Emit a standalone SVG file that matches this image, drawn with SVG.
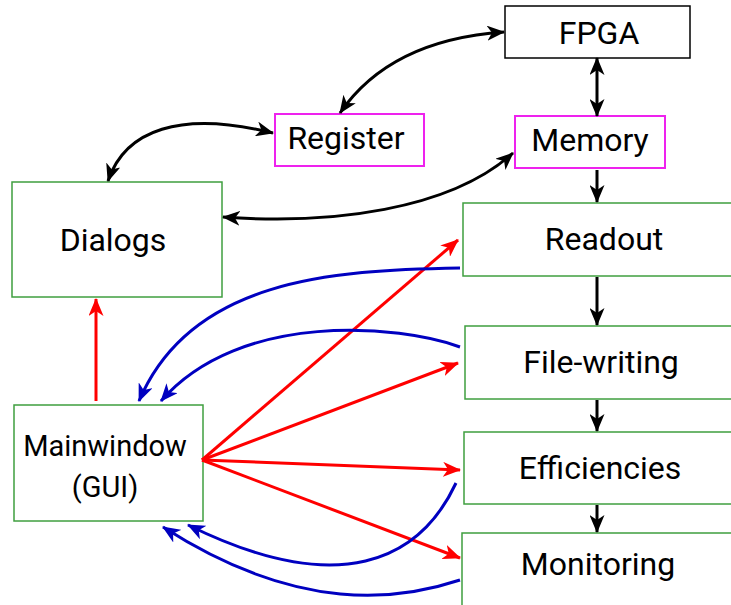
<svg xmlns="http://www.w3.org/2000/svg" width="731" height="605" viewBox="0 0 731 605">
<defs>
<style>
text{font-family:Roboto,"Liberation Sans",sans-serif;font-size:32px;fill:#000;text-anchor:middle}
.g{fill:#fff;stroke:#3f9f3f;stroke-width:1.5}
.m{fill:#fff;stroke:#ee22ee;stroke-width:2}
.k{fill:#fff;stroke:#000;stroke-width:1.5}
.ck{fill:none;stroke:#000;stroke-width:3}
.cr{fill:none;stroke:#ff0000;stroke-width:3}
.cb{fill:none;stroke:#0000c0;stroke-width:3}
</style>
<marker id="ak" viewBox="0 0 18 15" refX="17" refY="7.5" markerWidth="18" markerHeight="15" markerUnits="userSpaceOnUse" orient="auto-start-reverse"><path d="M0,0 L18,7.5 L0,15 L5,7.5 Z" fill="#000"/></marker>
<marker id="ar" viewBox="0 0 18 15" refX="17" refY="7.5" markerWidth="18" markerHeight="15" markerUnits="userSpaceOnUse" orient="auto-start-reverse"><path d="M0,0 L18,7.5 L0,15 L5,7.5 Z" fill="#ff0000"/></marker>
<marker id="ab" viewBox="0 0 18 15" refX="17" refY="7.5" markerWidth="18" markerHeight="15" markerUnits="userSpaceOnUse" orient="auto-start-reverse"><path d="M0,0 L18,7.5 L0,15 L5,7.5 Z" fill="#0000c0"/></marker>
</defs>
<rect width="731" height="605" fill="#fff"/>
<g id="fpga"><rect class="k" x="505" y="6" width="185" height="52"/><text x="599" y="44">FPGA</text></g>
<g id="memory"><rect class="m" x="515" y="116" width="150" height="52"/><text x="590" y="151">Memory</text></g>
<g id="register"><rect class="m" x="275" y="114" width="149" height="52"/><text x="346" y="149">Register</text></g>
<g id="dialogs"><rect class="g" x="12" y="182" width="210" height="115"/><text x="113" y="251">Dialogs</text></g>
<g id="mainwindow"><rect class="g" x="14" y="405" width="189" height="116"/><text x="105" y="456" style="font-size:29px">Mainwindow</text><text x="105" y="497" style="font-size:29px">(GUI)</text></g>
<g id="readout"><rect class="g" x="463" y="203" width="280" height="73"/><text x="604" y="250">Readout</text></g>
<g id="filewriting"><rect class="g" x="465" y="326" width="280" height="73"/><text x="601" y="373">File-writing</text></g>
<g id="efficiencies"><rect class="g" x="464" y="432" width="280" height="72"/><text x="600" y="479">Efficiencies</text></g>
<g id="monitoring"><rect class="g" x="462" y="533" width="280" height="80"/><text x="598" y="575">Monitoring</text></g>
<g id="connectors">
<path class="ck" d="M340,113 Q390,40 504,32" marker-start="url(#ak)" marker-end="url(#ak)"/>
<path class="ck" d="M108,181 C125,130 180,110 273,133" marker-start="url(#ak)" marker-end="url(#ak)"/>
<path class="ck" d="M597,58 L597,116" marker-start="url(#ak)" marker-end="url(#ak)"/>
<path class="ck" d="M223,217 C330,225 450,210 513,153" marker-start="url(#ak)" marker-end="url(#ak)"/>
<path class="ck" d="M597,170 L597,202" marker-end="url(#ak)"/>
<path class="ck" d="M597,277 L597,325" marker-end="url(#ak)"/>
<path class="ck" d="M597,400 L597,431" marker-end="url(#ak)"/>
<path class="ck" d="M597,505 L597,532" marker-end="url(#ak)"/>
<path class="cr" d="M96,401 L96,299" marker-end="url(#ar)"/>
<path class="cr" d="M202,460 L458,240" marker-end="url(#ar)"/>
<path class="cr" d="M202,460 L458,363" marker-end="url(#ar)"/>
<path class="cr" d="M202,460 L460,470" marker-end="url(#ar)"/>
<path class="cr" d="M202,460 L460,558" marker-end="url(#ar)"/>
<path class="cb" d="M460,268 C330,270 190,280 139,401" marker-end="url(#ab)"/>
<path class="cb" d="M460,347 C400,325 240,310 161,401" marker-end="url(#ab)"/>
<path class="cb" d="M456,483 C420,560 340,600 188,525" marker-end="url(#ab)"/>
<path class="cb" d="M460,580 C400,600 300,615 163,527" marker-end="url(#ab)"/>
</g>
</svg>
